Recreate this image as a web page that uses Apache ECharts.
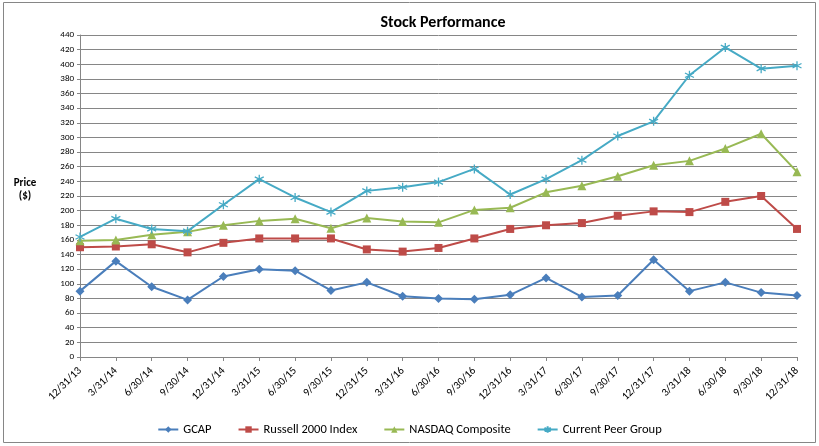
<!DOCTYPE html>
<html>
<head>
<meta charset="utf-8">
<script src="https://cdn.jsdelivr.net/npm/echarts@6/dist/echarts.min.js"></script>
<style>html,body{margin:0;padding:0;background:#fff}#c{width:819px;height:446px}</style>
</head>
<body>
<div id="c"></div>
<script>
const categories = ['12/31/13','3/31/14','6/30/14','9/30/14','12/31/14','3/31/15','6/30/15','9/30/15','12/31/15','3/31/16','6/30/16','9/30/16','12/31/16','3/31/17','6/30/17','9/30/17','12/31/17','3/31/18','6/30/18','9/30/18','12/31/18'];
const gcap = [90,131,96,78,110,120,118,91,102,83,80,79,85,108,82,84,133,90,102,88,84];
const russell = [150,151,154,143,156,162,162,162,147,144,149,162,175,180,183,193,199,198,212,220,175];
const nasdaq = [159,160,167,171,180,186,189,176,190,185,184,201,204,225,234,247,262,268,285,305,253];
const peer = [164,189,175,172,208,243,218,198,227,232,239,257,222,243,269,302,322,385,423,394,398];
const yTicks = {min:0, max:440, interval:20};

const FONT = 'Calibri, Carlito, "Liberation Sans", Arial, sans-serif';
const chart = echarts.init(document.getElementById('c'));
const asterisk = 'path://M5,0L5,10M0.7,2.5L9.3,7.5M9.3,2.5L0.7,7.5';
function ser(name, data, color, symbol, size, extra) {
  return Object.assign({
    name, type:'line', data, symbol, symbolSize:size, showAllSymbol:true,
    lineStyle:{color, width:2}, itemStyle:{color}, emphasis:{disabled:true}, z:2
  }, extra || {});
}
chart.setOption({
  animation:false,
  backgroundColor:'#fff',
  textStyle:{fontFamily:FONT},
  title:{text:'Stock Performance', left:438, textAlign:'center', top:10,
    textStyle:{fontFamily:FONT, fontSize:16, fontWeight:'bold', color:'#000'}},
  grid:{left:80, right:22, top:35, bottom:89},
  legend:{top:418, left:'center', itemWidth:20, itemHeight:8, itemGap:26,
    textStyle:{fontFamily:FONT, fontSize:12.5, color:'#000'},
    data:['GCAP','Russell 2000 Index','NASDAQ Composite','Current Peer Group']},
  xAxis:{type:'category', data:categories, boundaryGap:false,
    axisLine:{lineStyle:{color:'#868686', width:1}},
    axisTick:{show:true, alignWithLabel:true, length:4, lineStyle:{color:'#868686'}},
    axisLabel:{rotate:45, interval:0, fontSize:11, color:'#000', fontFamily:FONT, margin:12},
    splitLine:{show:false}},
  yAxis:{type:'value', min:yTicks.min, max:yTicks.max, interval:yTicks.interval,
    axisLine:{show:true, lineStyle:{color:'#868686'}},
    axisTick:{show:true, length:3, lineStyle:{color:'#868686'}},
    axisLabel:{fontSize:9, color:'#000', fontFamily:FONT, margin:6},
    splitLine:{show:true, lineStyle:{color:'#868686', width:1}}},
  series:[
    ser('GCAP', gcap, '#4A7EBB', 'diamond', 9),
    ser('Russell 2000 Index', russell, '#BE4B48', 'rect', 8),
    ser('NASDAQ Composite', nasdaq, '#98B954', 'triangle', 9),
    ser('Current Peer Group', peer, '#46AAC5', asterisk, 9,
      {itemStyle:{color:'#46AAC5', borderColor:'#46AAC5', borderWidth:1.3}})
  ],
  graphic:[
    {type:'rect', shape:{x:3.5, y:2.5, width:812, height:440},
      style:{fill:null, stroke:'#868686', lineWidth:1}, silent:true, z:-1},
    {type:'text', left:'auto', x:25, y:177, silent:true,
      style:{text:'Price\n($)', fontFamily:FONT, fontSize:11, fontWeight:'bold',
        fill:'#000', align:'center', lineHeight:13}}
  ]
});
</script>
</body>
</html>
